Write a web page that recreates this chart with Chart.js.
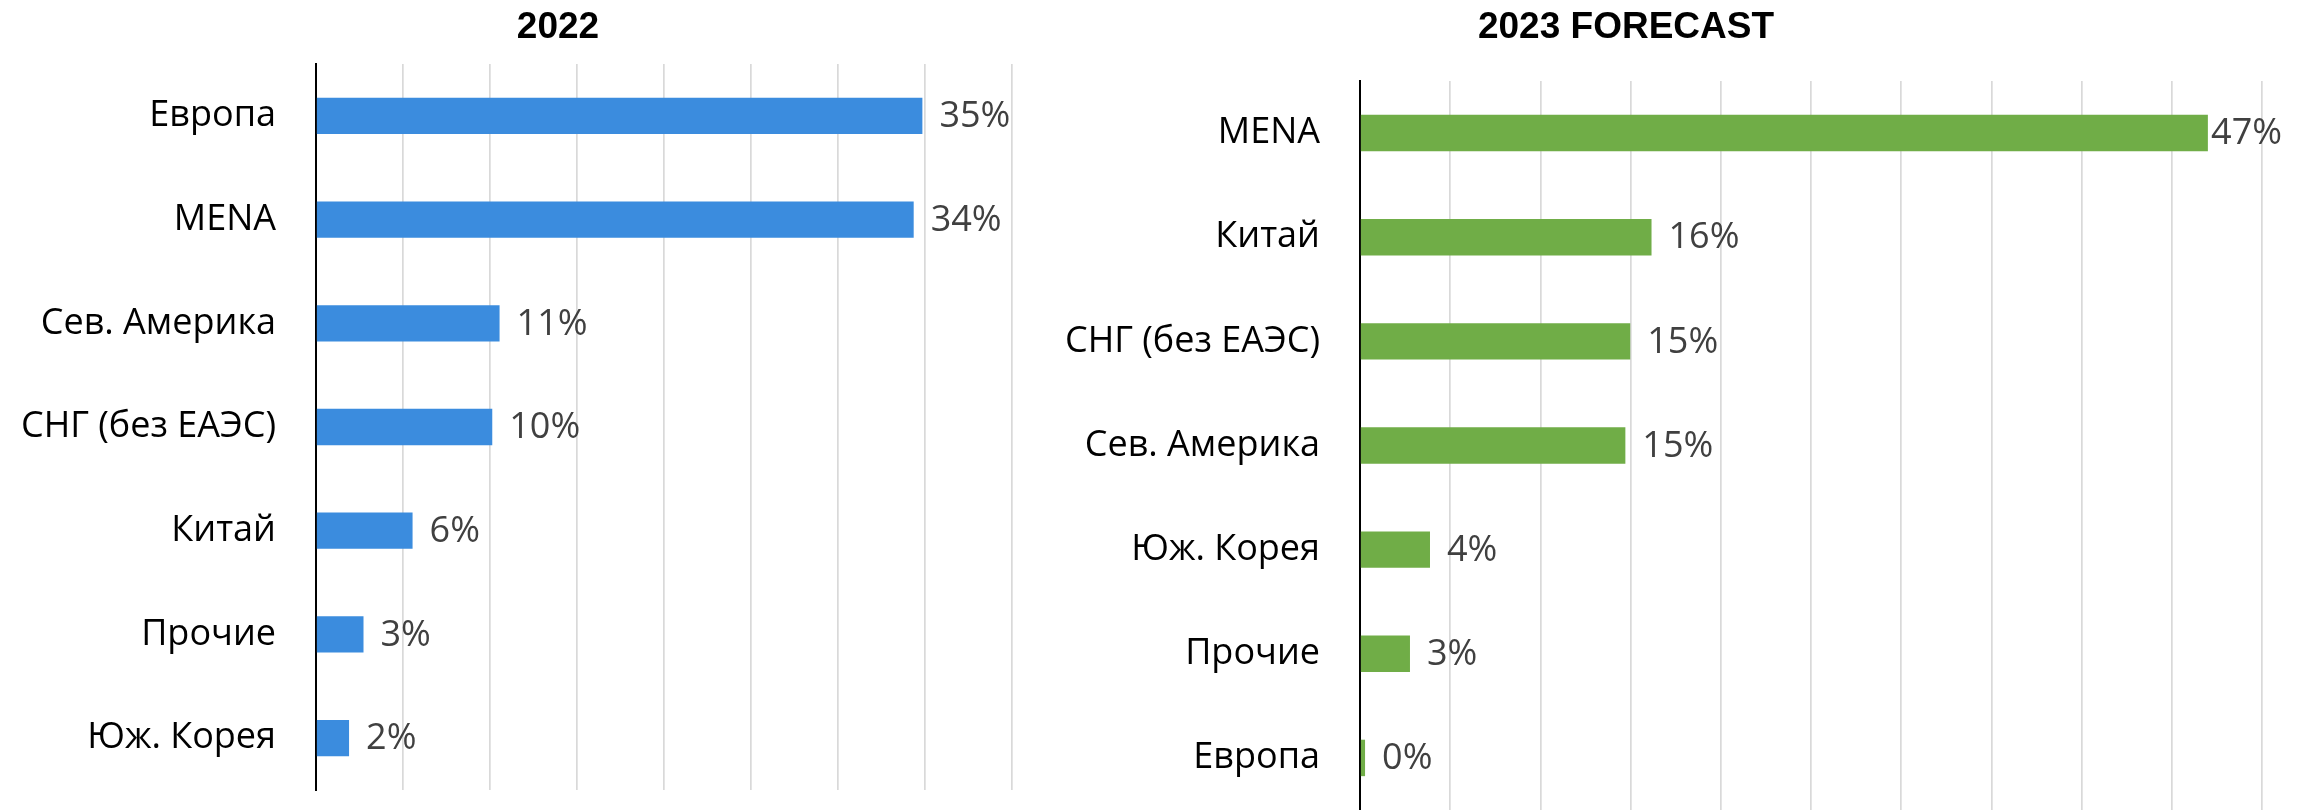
<!DOCTYPE html>
<html>
<head>
<meta charset="utf-8">
<script src="https://cdn.jsdelivr.net/npm/chart.js@4.4.0/dist/chart.umd.min.js"></script>
<style>
  html, body { margin: 0; padding: 0; background: #fff; }
  body { width: 2305px; height: 810px; position: relative; overflow: hidden; }
  .chart-box { position: absolute; top: 0; height: 810px; }
</style>
</head>
<body>
<div class="chart-box" style="left:0;width:1116px"><canvas id="chart2022"></canvas></div>
<div class="chart-box" style="left:947px;width:1358px"><canvas id="chart2023"></canvas></div>
<script>
// 2022 shares by region
const regions2022 = ['Европа', 'MENA', 'Сев. Америка', 'СНГ (без ЕАЭС)', 'Китай', 'Прочие', 'Юж. Корея'];
const shares2022 = [0.3485, 0.3435, 0.1055, 0.1013, 0.0555, 0.0273, 0.019];

// 2023 forecast shares by region
const regions2023 = ['MENA', 'Китай', 'СНГ (без ЕАЭС)', 'Сев. Америка', 'Юж. Корея', 'Прочие', 'Европа'];
const shares2023 = [0.470, 0.1616, 0.1498, 0.1471, 0.0388, 0.0277, 0.0028];

const axisMax2022 = 0.40;
const axisMax2023 = 0.50;
const axisStep = 0.05;

const LABEL_FONT = "'Open Sans', 'Noto Sans', sans-serif";
const TITLE_FONT = "'Liberation Sans', Arial, sans-serif";

// title centred on the whole canvas (the built-in one centres between layout paddings)
const canvasTitle = {
  id: 'canvasTitle',
  afterDraw(chart, args, opts) {
    const ctx = chart.ctx;
    ctx.save();
    ctx.font = 'bold 37px ' + TITLE_FONT;
    ctx.fillStyle = '#000';
    ctx.textAlign = 'center';
    ctx.textBaseline = 'alphabetic';
    ctx.fillText(opts.text, chart.width / 2, opts.baseline);
    ctx.restore();
  }
};

// draws "35%" style labels to the right of each bar
const valueLabels = {
  id: 'valueLabels',
  afterDatasetsDraw(chart) {
    const ctx = chart.ctx;
    const meta = chart.getDatasetMeta(0);
    const values = chart.data.datasets[0].data;
    ctx.save();
    ctx.font = '36px ' + LABEL_FONT;
    ctx.fillStyle = '#404040';
    ctx.textAlign = 'left';
    ctx.textBaseline = 'middle';
    meta.data.forEach((bar, i) => {
      const txt = Math.round(values[i] * 100) + '%';
      const w = ctx.measureText(txt).width;
      // squeeze the label in when it would run past the plot (the 47% case)
      const gap = Math.min(17, chart.chartArea.right + 20 - w - bar.x);
      ctx.fillText(txt, bar.x + gap, bar.y + 1);
    });
    ctx.restore();
  }
};

function noScalePadding(scale) {
  scale.paddingTop = 0;
  scale.paddingBottom = 0;
  scale.paddingLeft = 0;
  scale.paddingRight = 0;
}

function makeChart(id, title, labels, values, color, axisMax, yWidth, pad) {
  return new Chart(document.getElementById(id), {
    type: 'bar',
    data: {
      labels: labels,
      datasets: [{ data: values, backgroundColor: color, borderWidth: 0, categoryPercentage: 0.35, barPercentage: 1 }]
    },
    options: {
      indexAxis: 'y',
      responsive: true,
      maintainAspectRatio: false,
      animation: false,
      layout: { padding: pad },
      plugins: {
        legend: { display: false },
        tooltip: { enabled: false },
        canvasTitle: { text: title, baseline: 38 }
      },
      scales: {
        x: {
          min: 0,
          max: axisMax,
          ticks: { display: false, stepSize: axisStep },
          grid: { color: '#d9d9d9', lineWidth: 1.7, drawTicks: false },
          border: { display: false },
          afterFit(scale) { scale.height = 0; noScalePadding(scale); }
        },
        y: {
          grid: { display: false, drawTicks: false },
          border: { display: true, color: '#000', width: 2 },
          ticks: { color: '#000', padding: 40, font: { family: LABEL_FONT, size: 36 } },
          afterFit(scale) { scale.width = yWidth; noScalePadding(scale); }
        }
      }
    },
    plugins: [valueLabels, canvasTitle]
  });
}

makeChart('chart2022', '2022', regions2022, shares2022, '#3b8cde', axisMax2022, 316,
  { left: 0, right: 104, top: 64, bottom: 20 });
makeChart('chart2023', '2023 FORECAST', regions2023, shares2023, '#70ad47', axisMax2023, 413,
  { left: 0, right: 43, top: 81, bottom: -1 });
</script>
</body>
</html>
